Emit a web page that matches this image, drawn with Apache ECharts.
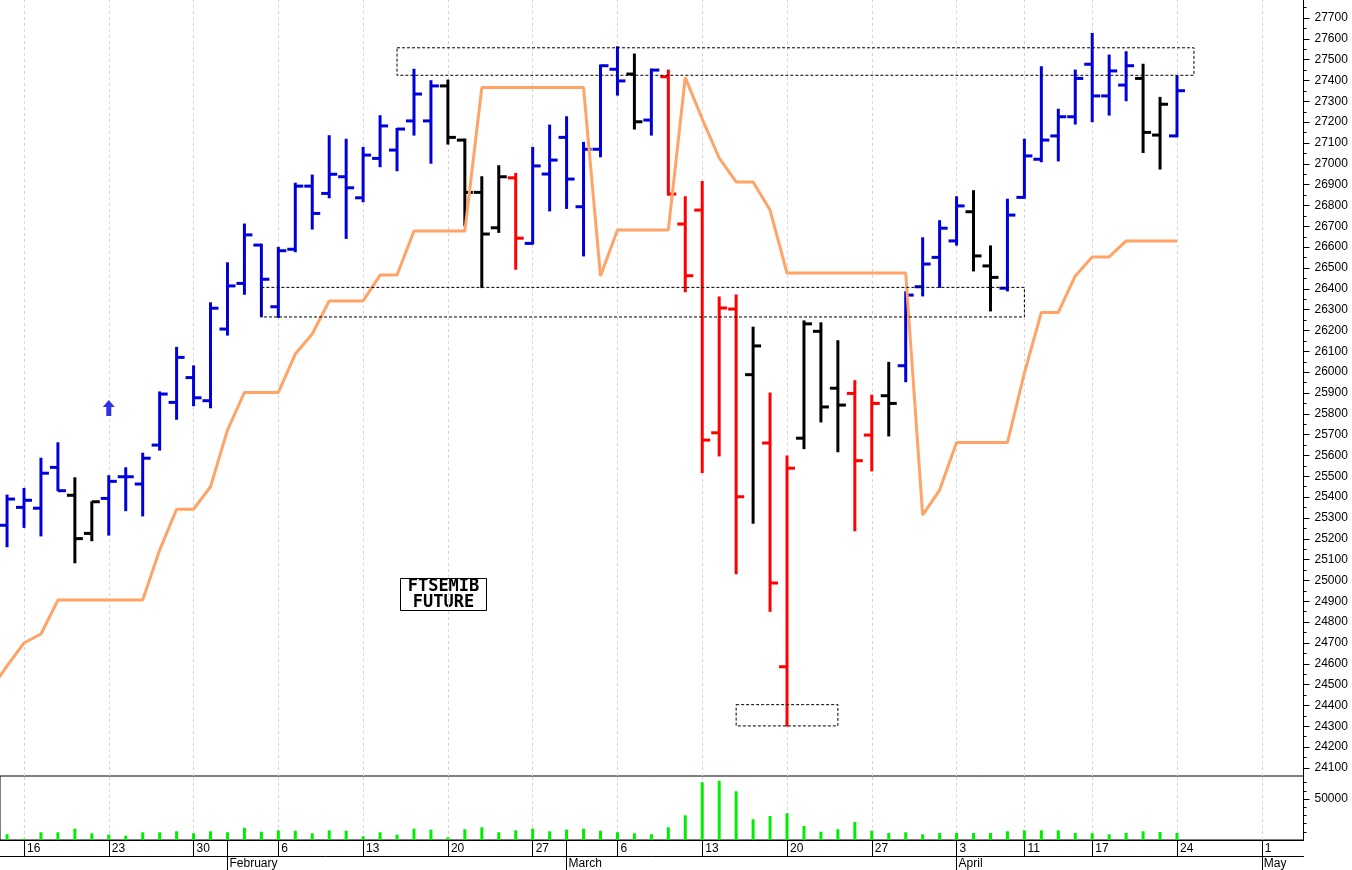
<!DOCTYPE html>
<html><head><meta charset="utf-8">
<script src="https://cdn.jsdelivr.net/npm/echarts@6/dist/echarts.min.js"></script>
<style>html,body{margin:0;padding:0;background:#fff;}#c{width:1352px;height:870px;}</style>
</head><body><div id="c"></div>
<script>
// trading days (first = Jan 12, before visible bars; last days are empty future slots)
const dates = [
 '2023-01-12','2023-01-13','2023-01-16','2023-01-17','2023-01-18','2023-01-19','2023-01-20','2023-01-23','2023-01-24','2023-01-25','2023-01-26','2023-01-27','2023-01-30','2023-01-31',
 '2023-02-01','2023-02-02','2023-02-03','2023-02-06','2023-02-07','2023-02-08','2023-02-09','2023-02-10','2023-02-13','2023-02-14','2023-02-15','2023-02-16','2023-02-17','2023-02-20','2023-02-21','2023-02-22','2023-02-23','2023-02-24','2023-02-27','2023-02-28',
 '2023-03-01','2023-03-02','2023-03-03','2023-03-06','2023-03-07','2023-03-08','2023-03-09','2023-03-10','2023-03-13','2023-03-14','2023-03-15','2023-03-16','2023-03-17','2023-03-20','2023-03-21','2023-03-22','2023-03-23','2023-03-24','2023-03-27','2023-03-28','2023-03-29','2023-03-30','2023-03-31',
 '2023-04-03','2023-04-04','2023-04-05','2023-04-06','2023-04-11','2023-04-12','2023-04-13','2023-04-14','2023-04-17','2023-04-18','2023-04-19','2023-04-20','2023-04-21','2023-04-24','2023-04-25','2023-04-26','2023-04-27','2023-04-28',
 '2023-05-01','2023-05-02','2023-05-03'
];
// OHLC bars from Jan 13 to Apr 24
const opens = [25265,25351,25347,25543,25409,25226,25394,25498,25463,25650,25855,25974,25863,26207,26426,26610,26314,26590,26893,26858,26938,26837,27026,27066,27206,27206,27374,27114,26863,26693,26933,26618,26951,27127,26794,27070,27454,27431,27210,27418,26711,26778,25709,26303,25988,25660,24586,25683,26196,25923,25898,25698,25887,26031,26410,26551,26630,26770,26510,26403,26839,27022,27134,27226,27478,27326,27378,27410,27138,27134];
const highs = [25410,25442,25587,25661,25493,25378,25503,25541,25611,25905,26119,26030,26333,26525,26711,26614,26599,26907,26946,27135,27118,27079,27231,27170,27454,27399,27402,27119,26938,26991,26954,27079,27186,27226,27103,27474,27562,27527,27455,27450,26842,26915,26361,26370,26216,25900,25598,26246,26237,26151,25959,25890,26047,26386,26645,26727,26842,26871,26606,26830,27118,27466,27262,27450,27626,27522,27538,27478,27319,27422];
const lows = [25162,25255,25214,25431,25085,25191,25218,25335,25310,25626,25774,25839,25829,26178,26374,26266,26263,26578,26687,26837,26642,26818,26986,26967,27138,27003,27095,26703,26406,26671,26494,26615,26774,26786,26558,27034,27330,27167,27138,26850,26386,25518,25598,25033,25275,24852,24302,25633,25761,25618,25239,25526,25694,25954,26366,26407,26610,26486,26294,26390,26835,27010,27014,27191,27202,27234,27303,27054,26975,27130];
const closes = [25391,25385,25515,25431,25201,25378,25476,25498,25587,25895,26071,25877,26307,26414,26659,26446,26583,26893,26762,26950,26885,27042,27182,27167,27335,27374,27127,26863,26663,26938,26643,26990,27018,26927,27070,27471,27398,27202,27450,26855,26463,25674,26308,25402,26126,24988,25539,26232,25833,25842,25575,25850,25850,26370,26519,26691,26798,26558,26455,26754,27038,27114,27226,27410,27326,27446,27471,27151,27286,27351];
// bar tone: b = blue, k = black, r = red
const tones = ['b','b','b','b','k','k','b','b','b','b','b','b','b','b','b','b','b','b','b','b','b','b','b','b','b','b','k','k','k','k','r','b','b','b','b','b','b','k','b','r','r','r','r','r','k','r','r','k','k','k','r','r','k','b','b','b','b','k','k','b','b','b','b','b','b','b','b','k','k','b'];
const volumes = [7000,1500,9400,9400,13800,8200,6500,5200,9400,9400,10600,8200,10600,9400,15000,10100,11800,11300,8200,11800,11300,4500,9400,6500,13800,12600,3300,13100,15500,9400,11800,13800,10600,12600,13800,11300,9400,8200,7000,15500,30100,70400,72300,59400,25300,29300,32600,17100,10100,13100,22000,11300,8500,9400,7000,8500,8500,8500,8500,10600,11800,11800,11800,8500,8200,7000,8500,10600,9800,8500];
// trailing stop line from Jan 12 to Apr 24
const stopLine = [24472,24590,24700,24743,24906,24906,24906,24906,24906,24906,25146,25342,25342,25450,25722,25903,25903,25903,26087,26183,26342,26342,26342,26466,26466,26678,26678,26678,26678,27366,27366,27366,27366,27366,27366,27366,26462,26682,26682,26682,26682,27415,27215,27028,26913,26913,26778,26476,26476,26476,26476,26476,26476,26476,26476,25314,25434,25662,25662,25662,25662,25996,26287,26287,26462,26553,26553,26630,26630,26630,26630];
// dotted zones: [startDate, endDate, top, bottom]
const zones = [
 ['2023-02-15','2023-04-25',27557,27425],
 ['2023-02-03','2023-04-11',26407,26265],
 ['2023-03-15','2023-03-23',24404,24302]
];
const priceTicks = [];
for (let v = 24100; v <= 27700; v += 100) priceTicks.push(v);
const priceMinor = priceTicks.map(v => v + 50).filter(v => v < 27780);
const volTicks = [50000];
const volMinor = [10000,20000,30000,40000,60000,70000];
const arrowPoint = ['2023-01-23', 25828];
const monthNames = ['January','February','March','April','May','June','July','August','September','October','November','December'];

const toneColor = {b:'#0000dc', k:'#000000', r:'#ff0000'};
const idx = d => dates.indexOf(d);
function mondayKey(s){const d=new Date(s+'T00:00:00Z');const wd=(d.getUTCDay()+6)%7;return new Date(d.getTime()-wd*86400000).toISOString().slice(0,10);}
const weekIdx = dates.map((d,i)=>i).filter(i => i > 0 && mondayKey(dates[i]) !== mondayKey(dates[i-1]));
const monthIdx = dates.map((d,i)=>i).filter(i => i > 0 && dates[i].slice(5,7) !== dates[i-1].slice(5,7));
const tickIdx = Array.from(new Set(weekIdx.concat(monthIdx))).sort((a,b)=>a-b);

// visible day-index window of the time axis
const X_MIN = 0.5846, X_MAX = 77.461;
const OFF = 1;
const ohlcData = opens.map((o,i) => [i+OFF, o, highs[i], lows[i], closes[i]]);
const volData = volumes.map((v,i) => [i+OFF, v]);
const stopData = stopLine.map((v,i) => [i, v]);

const FONT = '"Liberation Sans", Arial, sans-serif';
const gridLineMark = {
  symbol:'none', silent:true, z:0, label:{show:false},
  lineStyle:{color:'#d4d4d8', type:[3,3], width:1},
  data: weekIdx.map(i => ({xAxis:i}))
};
const hiddenX = g => ({type:'value', gridIndex:g, min:X_MIN, max:X_MAX, show:false, splitLine:{show:false}});

const chart = echarts.init(document.getElementById('c'));
chart.setOption({
  animation:false,
  backgroundColor:'#ffffff',
  grid:[
    {left:0, right:48.5, top:0, height:776, show:false},
    {left:0, right:48.5, top:776, height:64, show:true, borderColor:'#000', borderWidth:1, backgroundColor:'transparent'}
  ],
  xAxis:[
    hiddenX(0),
    {type:'value', gridIndex:1, min:X_MIN, max:X_MAX, position:'bottom',
     axisLine:{show:true, onZero:false, lineStyle:{color:'#000', width:1}},
     axisTick:{show:true, inside:false, length:16, customValues:tickIdx, lineStyle:{color:'#000', width:1}},
     axisLabel:{show:true, customValues:weekIdx, align:'left', margin:3, padding:[0,0,0,3], color:'#000', fontSize:12, fontFamily:FONT,
       formatter:(v)=>String(parseInt(dates[Math.round(v)].slice(8,10),10))},
     splitLine:{show:false}},
    {type:'value', gridIndex:1, min:X_MIN, max:X_MAX, position:'bottom', offset:16,
     axisLine:{show:true, onZero:false, lineStyle:{color:'#000', width:1}},
     axisTick:{show:true, length:14, customValues:monthIdx, lineStyle:{color:'#000', width:1}},
     axisLabel:{show:true, customValues:monthIdx, align:'left', margin:2, padding:[0,0,0,2], color:'#000', fontSize:12, fontFamily:FONT,
       formatter:(v)=>monthNames[parseInt(dates[Math.round(v)].slice(5,7),10)-1]},
     splitLine:{show:false}}
  ],
  yAxis:[
    {type:'value', gridIndex:0, position:'right', min:24061.6, max:27786.4,
     axisLine:{show:true, lineStyle:{color:'#000', width:1}},
     axisTick:{show:true, length:6, customValues:priceTicks, lineStyle:{color:'#000'}},
     axisLabel:{show:true, customValues:priceTicks, margin:11, color:'#000', fontSize:12, fontFamily:FONT, formatter:(v)=>String(v)},
     splitLine:{show:false}},
    {type:'value', gridIndex:0, position:'right', min:24061.6, max:27786.4,
     axisLine:{show:false}, axisTick:{show:true, length:3, customValues:priceMinor, lineStyle:{color:'#000'}},
     axisLabel:{show:false}, splitLine:{show:false}},
    {type:'value', gridIndex:1, position:'right', min:0, max:78049,
     axisLine:{show:true, lineStyle:{color:'#000', width:1}},
     axisTick:{show:true, length:6, customValues:volTicks, lineStyle:{color:'#000'}},
     axisLabel:{show:true, customValues:volTicks, margin:11, color:'#000', fontSize:12, fontFamily:FONT, formatter:(v)=>String(v)},
     splitLine:{show:false}},
    {type:'value', gridIndex:1, position:'right', min:0, max:78049,
     axisLine:{show:false}, axisTick:{show:true, length:3, customValues:volMinor, lineStyle:{color:'#000'}},
     axisLabel:{show:false}, splitLine:{show:false}}
  ],
  series:[
    {type:'line', name:'grid-price', xAxisIndex:0, yAxisIndex:0, data:[], z:0, markLine:gridLineMark},
    {type:'line', name:'grid-vol', xAxisIndex:1, yAxisIndex:2, data:[], z:0, markLine:gridLineMark},
    {type:'custom', name:'FTSEMIB', xAxisIndex:0, yAxisIndex:0, data:ohlcData, z:3,
     encode:{x:0, y:[1,2,3,4]},
     renderItem:function(params, api){
       const x = api.value(0);
       const pO = api.coord([x, api.value(1)]);
       const pH = api.coord([x, api.value(2)]);
       const pL = api.coord([x, api.value(3)]);
       const pC = api.coord([x, api.value(4)]);
       const col = toneColor[tones[params.dataIndex]];
       const st = {stroke:col, lineWidth:3, lineCap:'butt'};
       const t = 8;
       return {type:'group', children:[
         {type:'line', shape:{x1:pH[0], y1:pH[1]-0.5, x2:pL[0], y2:pL[1]+0.5}, style:st},
         {type:'line', shape:{x1:pO[0]-t, y1:pO[1], x2:pO[0], y2:pO[1]}, style:st},
         {type:'line', shape:{x1:pC[0], y1:pC[1], x2:pC[0]+t, y2:pC[1]}, style:st}
       ]};
     }},
    {type:'line', name:'stop', xAxisIndex:0, yAxisIndex:0, data:stopData, z:4, showSymbol:false, symbol:'none',
     lineStyle:{color:'#ffa466', width:3},
     markArea:{silent:true, z:5, itemStyle:{color:'rgba(0,0,0,0)', borderColor:'#000', borderWidth:1, borderType:[3,2]},
       data: zones.map(z => [{xAxis:idx(z[0]), yAxis:z[2]}, {xAxis:idx(z[1]), yAxis:z[3]}])}},
    {type:'scatter', name:'arrow', xAxisIndex:0, yAxisIndex:0, data:[[idx(arrowPoint[0]), arrowPoint[1]]], z:5,
     symbol:'path://M6,0 L12,7 L8.5,7 L8.5,16 L3.5,16 L3.5,7 L0,7 Z', symbolSize:[12,16], itemStyle:{color:'#0000dc'}},
    {type:'bar', name:'volume', xAxisIndex:1, yAxisIndex:2, data:volData, barWidth:3, z:3, itemStyle:{color:'#00ee00'}}
  ],
  graphic:[
    {type:'group', left:400, top:578, children:[
      {type:'rect', shape:{x:0, y:0, width:86, height:32}, style:{fill:'#fff', stroke:'#000', lineWidth:1}},
      {type:'text', style:{text:'FTSEMIB\nFUTURE', x:43, y:16, align:'center', verticalAlign:'middle', font:'bold 17px "DejaVu Sans Mono", "Liberation Mono", monospace', lineHeight:16, fill:'#000'}}
    ]}
  ]
});
</script>
</body></html>
